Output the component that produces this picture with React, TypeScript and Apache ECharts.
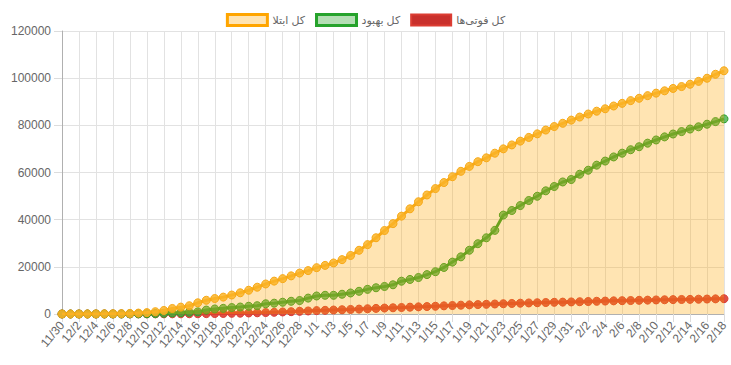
import React, { useEffect, useRef } from "react";
import * as echarts from "echarts";

const categories: string[] = [
  "11/30",
  "12/1", "12/2", "12/3", "12/4", "12/5", "12/6", "12/7", "12/8", "12/9", "12/10",
  "12/11", "12/12", "12/13", "12/14", "12/15", "12/16", "12/17", "12/18", "12/19", "12/20",
  "12/21", "12/22", "12/23", "12/24", "12/25", "12/26", "12/27", "12/28", "12/29",
  "1/1", "1/2", "1/3", "1/4", "1/5", "1/6", "1/7", "1/8", "1/9", "1/10",
  "1/11", "1/12", "1/13", "1/14", "1/15", "1/16", "1/17", "1/18", "1/19", "1/20",
  "1/21", "1/22", "1/23", "1/24", "1/25", "1/26", "1/27", "1/28", "1/29", "1/30", "1/31",
  "2/1", "2/2", "2/3", "2/4", "2/5", "2/6", "2/7", "2/8", "2/9", "2/10",
  "2/11", "2/12", "2/13", "2/14", "2/15", "2/16", "2/17", "2/18",
];

const totalCases: number[] = [
  2, 5, 18, 28, 43, 61, 95, 139, 245, 388, 593,
  978, 1501, 2336, 2922, 3513, 4747, 5823, 6566, 7161, 8042,
  9000, 10075, 11364, 12729, 13938, 14991, 16169, 17361, 18407,
  19644, 20610, 21638, 23049, 24811, 27017, 29406, 32332, 35408, 38309,
  41495, 44605, 47593, 50468, 53183, 55743, 58226, 60500, 62589, 64586,
  66220, 68192, 70029, 71686, 73303, 74877, 76389, 77995, 79494, 80868, 82211,
  83505, 84802, 85996, 87026, 88194, 89328, 90481, 91472, 92584, 93657,
  94640, 95646, 96448, 97424, 98647, 99970, 101650, 103135,
];

const totalRecovered: number[] = [
  0, 0, 0, 0, 0, 0, 0, 0, 49, 73, 123,
  175, 291, 435, 552, 739, 913, 1669, 2134, 2394, 2731,
  2959, 3276, 3529, 4339, 4590, 4996, 5389, 5710, 6745,
  7635, 7931, 7931, 8376, 8913, 9625, 10457, 11133, 11679, 12391,
  13911, 14656, 15473, 16711, 17935, 19736, 22011, 24236, 27039, 29812,
  32309, 35465, 41947, 43894, 45983, 48129, 49933, 52229, 54064, 55987, 57023,
  59273, 60965, 63113, 64843, 66599, 68193, 69657, 70933, 72439, 73791,
  75103, 76318, 77350, 78422, 79379, 80475, 81587, 82744,
];

const totalDeaths: number[] = [
  2, 2, 4, 5, 8, 12, 16, 19, 26, 34, 43,
  54, 66, 77, 92, 107, 124, 145, 194, 237, 291,
  354, 429, 514, 611, 724, 853, 988, 1135, 1284,
  1433, 1556, 1685, 1812, 1934, 2077, 2234, 2378, 2517, 2640,
  2757, 2898, 3036, 3160, 3294, 3452, 3603, 3739, 3872, 3993,
  4110, 4232, 4357, 4474, 4585, 4683, 4777, 4869, 4958, 5031, 5118,
  5209, 5297, 5391, 5481, 5574, 5650, 5710, 5806, 5877, 5957,
  6028, 6091, 6156, 6203, 6277, 6340, 6418, 6486,
];

const seriesNames: string[] = ["کل ابتلا", "کل بهبود", "کل فوتی‌ها"];

export default function App() {
  const ref = useRef<HTMLDivElement>(null);

  useEffect(() => {
    if (!ref.current) return;
    const chart = echarts.init(ref.current, null, { renderer: "svg" });
    const font = "Arial, 'Liberation Sans', 'DejaVu Sans', sans-serif";
    chart.setOption({
      animation: false,
      textStyle: { fontFamily: font },
      legend: {
        top: 8,
        left: "center",
        itemWidth: 40,
        itemHeight: 11,
        itemGap: 10,
        icon: "rect",
        textStyle: { color: "#666", fontSize: 11, fontFamily: font },
        data: [
          {
            name: seriesNames[0],
            itemStyle: { color: "rgba(255,165,0,0.3)", borderColor: "#ffa500", borderWidth: 3 },
          },
          {
            name: seriesNames[1],
            itemStyle: { color: "rgba(40,160,40,0.35)", borderColor: "#26a32c", borderWidth: 3 },
          },
          {
            name: seriesNames[2],
            itemStyle: { color: "#c9302c", borderColor: "#dc3d33", borderWidth: 2 },
          },
        ],
      },
      grid: { left: 62, right: 7, top: 31, bottom: 51, containLabel: false },
      xAxis: {
        type: "category",
        data: categories,
        boundaryGap: false,
        axisLine: { show: true, lineStyle: { color: "#b0b0b0", width: 1 } },
        axisTick: { show: true, interval: 1, length: 8, lineStyle: { color: "#dcdcdc" } },
        splitLine: { show: true, interval: 1, lineStyle: { color: "#e2e2e2", width: 1 } },
        axisLabel: {
          interval: 1,
          rotate: 50,
          color: "#666",
          fontSize: 12,
          margin: 9,
          fontFamily: font,
        },
      },
      yAxis: {
        type: "value",
        min: 0,
        max: 120000,
        interval: 20000,
        axisLine: { show: true, lineStyle: { color: "#b0b0b0", width: 1 } },
        axisTick: { show: true, length: 8, lineStyle: { color: "#dcdcdc" } },
        splitLine: { show: true, lineStyle: { color: "#e2e2e2", width: 1 } },
        axisLabel: {
          color: "#666",
          fontSize: 12,
          margin: 11,
          fontFamily: font,
          formatter: (v: number) => String(v),
        },
      },
      series: [
        {
          name: seriesNames[2],
          type: "line",
          data: totalDeaths,
          symbol: "circle",
          symbolSize: 8,
          showAllSymbol: true,
          lineStyle: { color: "#dc3d33", width: 3 },
          itemStyle: { color: "rgba(220,61,51,0.9)", borderColor: "#dc3d33", borderWidth: 1 },
          z: 2,
        },
        {
          name: seriesNames[1],
          type: "line",
          data: totalRecovered,
          symbol: "circle",
          symbolSize: 8,
          showAllSymbol: true,
          lineStyle: { color: "#2ba02c", width: 3 },
          itemStyle: { color: "rgba(60,170,60,0.75)", borderColor: "#2ba02c", borderWidth: 1 },
          z: 3,
        },
        {
          name: seriesNames[0],
          type: "line",
          data: totalCases,
          symbol: "circle",
          symbolSize: 8,
          showAllSymbol: true,
          lineStyle: { color: "#f8a915", width: 3 },
          itemStyle: { color: "rgba(250,180,40,0.85)", borderColor: "#f8a915", borderWidth: 1 },
          areaStyle: { color: "rgba(255,165,0,0.3)", opacity: 1 },
          z: 4,
        },
      ],
    });
    return () => chart.dispose();
  }, []);

  return (
    <div
      ref={ref}
      style={{ position: "absolute", left: 0, top: 0, width: 731, height: 365 }}
    />
  );
}
